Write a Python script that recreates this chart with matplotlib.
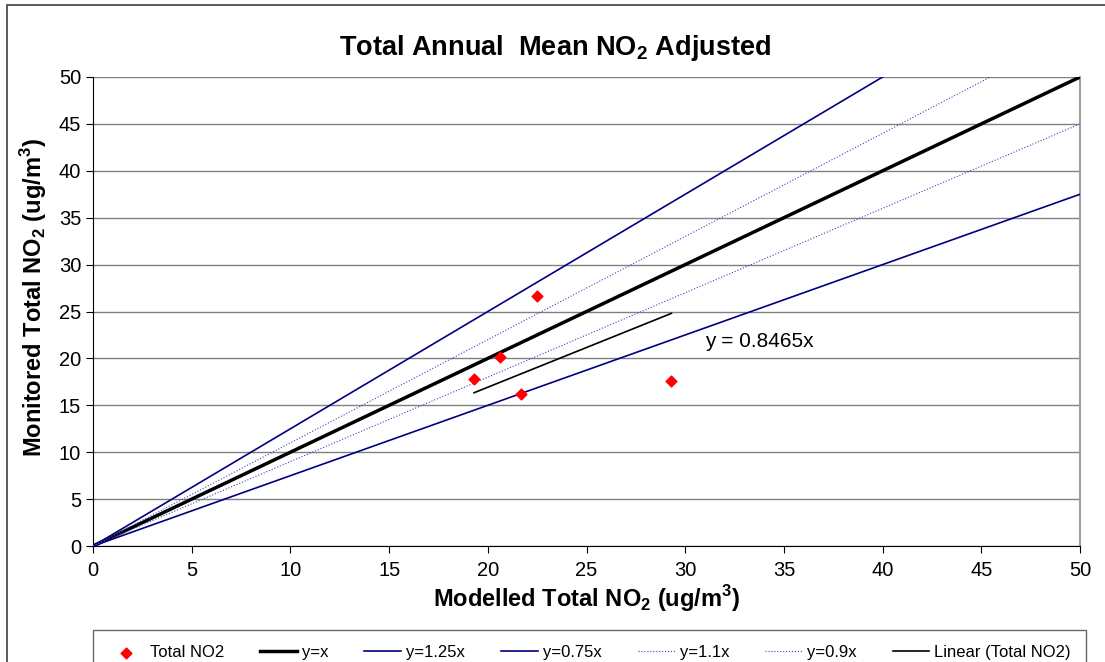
import matplotlib.pyplot as plt
import numpy as np
from matplotlib.patches import Rectangle

plt.rcParams['font.family'] = ['Liberation Sans', 'DejaVu Sans']
plt.rcParams['mathtext.fontset'] = 'custom'
plt.rcParams['mathtext.rm'] = 'Liberation Sans'
plt.rcParams['mathtext.bf'] = 'Liberation Sans:bold'

# monitored vs modelled NO2 sites
modelled = [22.5, 20.6, 19.3, 21.7, 29.3]
monitored = [26.7, 20.2, 17.8, 16.2, 17.6]

# reference lines: label, slope, colour, width, style
ref_lines = [
    ('y=x', 1.0, 'black', 2.5, '-'),
    ('y=1.25x', 1.25, '#000080', 1.2, '-'),
    ('y=0.75x', 0.75, '#000080', 1.2, '-'),
    ('y=1.1x', 1.1, '#4040c0', 0.8, ':'),
    ('y=0.9x', 0.9, '#4040c0', 0.8, ':'),
]
trend_slope = 0.8465

fig = plt.figure(figsize=(11.05, 6.62), dpi=100)
ax = fig.add_axes([0.0842, 0.1752, 0.8932, 0.7085])

ax.scatter(modelled, monitored, marker='D', s=30, color='red', zorder=5,
           label='Total NO2')

xs = np.array([0, 50])
for label, k, col, lw, ls in ref_lines:
    ax.plot(xs, k * xs, color=col, lw=lw, ls=ls, label=label, zorder=3)

tx = np.array([min(modelled), max(modelled)])
ax.plot(tx, trend_slope * tx, color='black', lw=1.2, label='Linear (Total NO2)',
        zorder=4)
ax.text(31.0, 21.2, 'y = 0.8465x', fontsize=15)

ax.set_xlim(0, 50)
ax.set_ylim(0, 50)
ax.set_xticks(np.arange(0, 51, 5))
ax.set_yticks(np.arange(0, 51, 5))
ax.yaxis.grid(True, color='#808080', lw=1)
ax.set_axisbelow(True)
ax.tick_params(labelsize=14.5, direction='out', length=5, color='black')
ax.tick_params(axis='x', pad=6)
ax.spines['right'].set_color('#a0a0a0')
ax.spines['right'].set_linewidth(1.5)
ax.spines['top'].set_visible(False)
for s in ['left', 'bottom']:
    ax.spines[s].set_color('black')

fig.text(0.502, 0.928, r'Total Annual  Mean NO$_\mathbf{2}$ Adjusted',
         fontsize=19.5, fontweight='bold', ha='center', va='center')
ax.set_xlabel(r'Modelled Total NO$_\mathbf{2}$ (ug/m$^\mathbf{3}$)', fontsize=17,
              fontweight='bold', labelpad=2)
ax.set_ylabel(r'Monitored Total NO$_\mathbf{2}$ (ug/m$^\mathbf{3}$)', fontsize=17,
              fontweight='bold')
ax.yaxis.set_label_coords(-0.045, 0.53)

# outer chart frame
fig.patches.append(Rectangle((7 / 1105, -0.05), 1.2, 1 - 5 / 662 + 0.05,
                             transform=fig.transFigure, fill=False,
                             edgecolor='#404040', lw=1.2))

h, l = ax.get_legend_handles_labels()
leg = fig.legend(h, l, loc='lower left', ncol=7, fontsize=12,
                 bbox_to_anchor=(93 / 1105, -0.02, (1086 - 93) / 1105, 0.072),
                 mode='expand', frameon=True, fancybox=False, borderaxespad=0,
                 handlelength=2.2, handletextpad=0.3, borderpad=0.9)
leg.get_frame().set_edgecolor('#404040')
leg.get_frame().set_linewidth(1.0)

fig.savefig('out.png', dpi=100)
